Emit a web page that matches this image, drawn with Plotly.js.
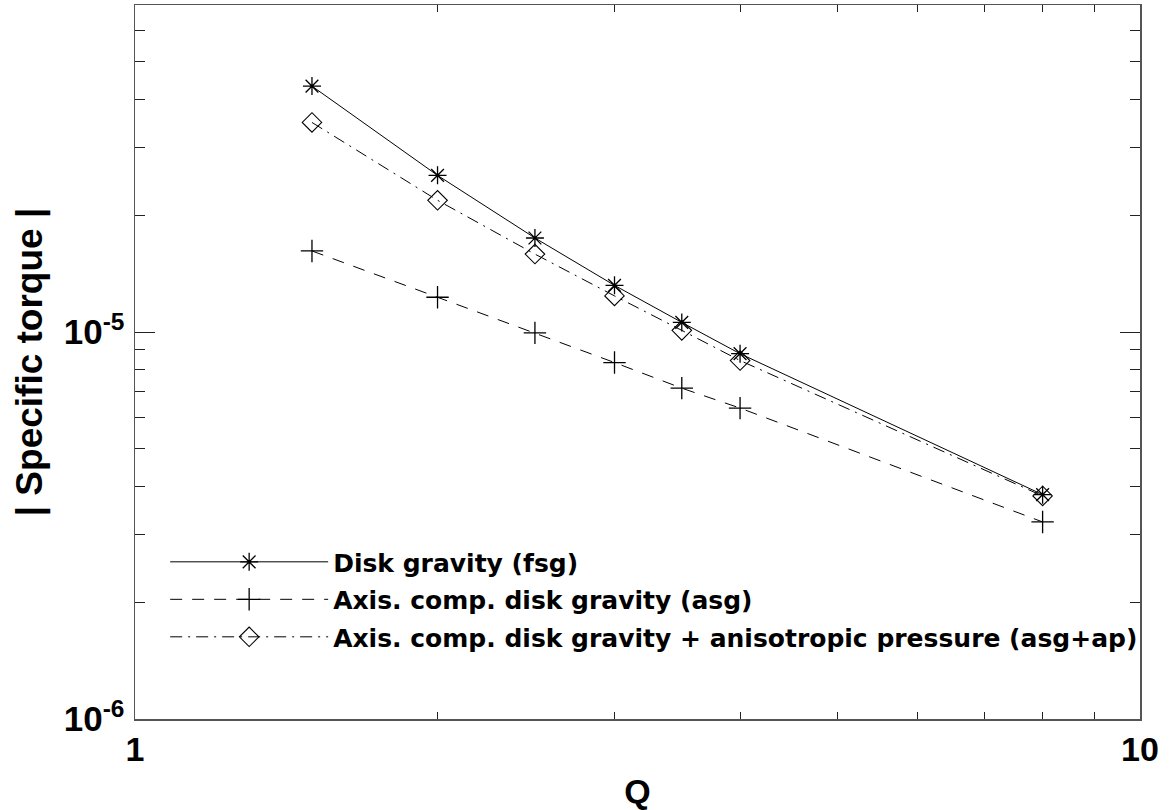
<!DOCTYPE html>
<html>
<head>
<meta charset="utf-8">
<script src="https://cdn.plot.ly/plotly-3.0.1.min.js"></script>
<style>html,body{margin:0;padding:0;background:#fff;}#chart{width:1171px;height:810px;}</style>
</head>
<body>
<div id="chart"></div>
<script>
const Q = [1.5, 2, 2.5, 3, 3.5, 4, 8];
const fsg = [4.32e-5, 2.54e-5, 1.75e-5, 1.32e-5, 1.059e-5, 8.79e-6, 3.80e-6];
const asg = [1.62e-5, 1.23e-5, 0.995e-5, 8.34e-6, 7.16e-6, 6.36e-6, 3.23e-6];
const asgap = [3.48e-5, 2.19e-5, 1.59e-5, 1.24e-5, 1.01e-5, 8.44e-6, 3.77e-6];
const names = ["Disk gravity (fsg)", "Axis. comp. disk gravity (asg)", "Axis. comp. disk gravity + anisotropic pressure (asg+ap)"];
const xMajor = [1, 10];
const xMajorText = ["1", "10"];
const xMinor = [2, 3, 4, 5, 6, 7, 8, 9];
const yMajor = [1e-6, 1e-5];
const yMajorText = ["10<sup>-6</sup>", "10<sup>-5</sup>"];
const yMinor = [2e-6, 3e-6, 4e-6, 5e-6, 6e-6, 7e-6, 8e-6, 9e-6, 2e-5, 3e-5, 4e-5, 5e-5, 6e-5, 7e-5];

const FONT = "Liberation Sans, Arial, sans-serif";
const LFONT = "DejaVu Sans, Liberation Sans, sans-serif";
const traces = [
  {x: Q, y: fsg, name: names[0], legendgroup: "a", mode: "lines+markers",
   line: {color: "#000", width: 1, dash: "solid"},
   marker: {symbol: "asterisk-open", size: 15, color: "#000", line: {width: 1.3, color: "#000"}}},
  {x: Q, y: asg, name: names[1], legendgroup: "b", mode: "lines+markers",
   line: {color: "#000", width: 1, dash: "12px,10px"},
   marker: {symbol: "cross-thin-open", size: 16, color: "#000", line: {width: 1.3, color: "#000"}}},
  {x: Q, y: asgap, name: names[2], legendgroup: "c", mode: "lines+markers",
   line: {color: "#000", width: 1, dash: "12px,6px,2px,6px"},
   marker: {symbol: "diamond-open", size: 15, color: "#000", line: {width: 1.1, color: "#000"}}}
];

const layout = {
  width: 1171, height: 810,
  paper_bgcolor: "#fff", plot_bgcolor: "#fff",
  margin: {l: 135, r: 31, t: 5, b: 91},
  font: {family: FONT, color: "#000"},
  showlegend: true,
  legend: {x: 0.03, y: 0.252, xanchor: "left", yanchor: "top",
    bgcolor: "rgba(0,0,0,0)", borderwidth: 0, itemwidth: 158, tracegroupgap: 2,
    font: {family: LFONT, size: 25, weight: "bold", color: "#000"}},
  xaxis: {type: "log", range: [0, 1], showgrid: false, zeroline: false,
    showline: true, linecolor: "#555", linewidth: 1.5, mirror: "ticks",
    ticks: "inside", ticklen: 14, tickcolor: "#222", tickwidth: 1,
    tickmode: "array", tickvals: xMajor, ticktext: xMajorText,
    tickfont: {family: FONT, size: 34, weight: "bold", color: "#000"},
    minor: {tickmode: "array", tickvals: xMinor, ticks: "inside", ticklen: 7, tickcolor: "#222", tickwidth: 1, showgrid: false},
    title: {text: "Q", font: {family: FONT, size: 34, weight: "bold", color: "#000"}, standoff: 14}},
  yaxis: {type: "log", range: [-6, Math.log10(7e-5)], showgrid: false, zeroline: false,
    showline: true, linecolor: "#555", linewidth: 1.5, mirror: "ticks",
    ticks: "inside", ticklen: 20, tickcolor: "#222", tickwidth: 1,
    tickmode: "array", tickvals: yMajor, ticktext: yMajorText, ticklabelstandoff: 2,
    tickfont: {family: FONT, size: 35, weight: "bold", color: "#000"},
    minor: {tickmode: "array", tickvals: yMinor, ticks: "inside", ticklen: 10, tickcolor: "#222", tickwidth: 1, showgrid: false},
    title: {text: "| Specific torque |", font: {family: FONT, size: 37, weight: "bold", color: "#000"}, standoff: 10}}
};
Plotly.newPlot("chart", traces, layout, {displayModeBar: false, staticPlot: true});
</script>
</body>
</html>
